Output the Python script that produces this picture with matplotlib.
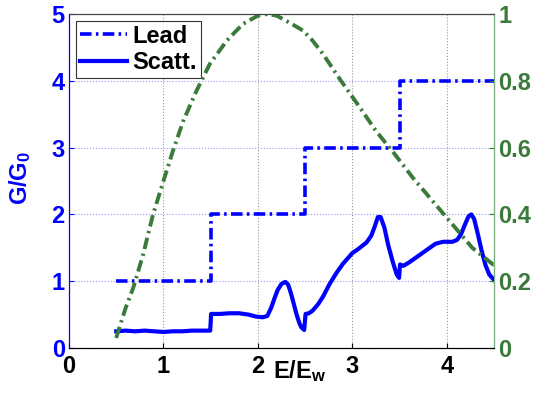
import matplotlib.pyplot as plt
import numpy as np

plt.rcParams['font.family'] = ['Liberation Sans', 'DejaVu Sans']
plt.rcParams['font.weight'] = 'bold'
plt.rcParams['mathtext.fontset'] = 'custom'
plt.rcParams['mathtext.rm'] = 'Liberation Sans:bold'
plt.rcParams['mathtext.it'] = 'Liberation Sans:bold'
plt.rcParams['mathtext.bf'] = 'Liberation Sans:bold'

# lead conductance (steps)
lead_E = [0.5, 1.5, 1.5, 2.5, 2.5, 3.5, 3.5, 4.5]
lead_G = [1, 1, 2, 2, 3, 3, 4, 4]

# scattering region conductance
scatt_E = [0.5, 0.6, 0.7, 0.8, 0.9, 1.0, 1.1, 1.2, 1.3, 1.4, 1.495, 1.505,
           1.6, 1.7, 1.8, 1.9, 1.98, 2.05, 2.1, 2.14, 2.18, 2.21, 2.25, 2.29,
           2.32, 2.35, 2.38, 2.41, 2.44, 2.46, 2.49, 2.505, 2.54, 2.58, 2.64,
           2.69, 2.76, 2.83, 2.9, 2.95, 3.0, 3.07, 3.15, 3.2, 3.24, 3.27,
           3.3, 3.34, 3.38, 3.43, 3.47, 3.495, 3.505, 3.54, 3.6, 3.7, 3.8,
           3.88, 3.96, 4.06, 4.11, 4.15, 4.19, 4.23, 4.26, 4.29, 4.33, 4.37,
           4.41, 4.45, 4.5]
scatt_G = [0.25, 0.26, 0.25, 0.26, 0.25, 0.24, 0.25, 0.25, 0.26, 0.26, 0.26, 0.51,
           0.51, 0.52, 0.52, 0.5, 0.47, 0.46, 0.48, 0.6, 0.76, 0.87, 0.96, 0.99,
           0.95, 0.82, 0.66, 0.5, 0.37, 0.31, 0.27, 0.51, 0.52, 0.56, 0.66,
           0.77, 0.96, 1.12, 1.26, 1.34, 1.42, 1.49, 1.58, 1.68, 1.83, 1.96,
           1.96, 1.8, 1.54, 1.28, 1.1, 1.05, 1.25, 1.23, 1.28, 1.38, 1.48,
           1.56, 1.59, 1.59, 1.62, 1.7, 1.84, 1.97, 2.0, 1.93, 1.7, 1.45,
           1.24, 1.1, 1.02]

# right axis curve
curve_E = [0.5, 0.52, 0.6, 0.68, 0.785, 0.89, 1.0, 1.1, 1.21, 1.35, 1.49, 1.67,
           1.84, 2.0, 2.1, 2.2, 2.36, 2.48, 2.58, 2.69, 2.88, 3.08, 3.25,
           3.45, 3.64, 3.85, 4.06, 4.27, 4.49, 4.5]
curve_v = [0.03, 0.049, 0.12, 0.18, 0.28, 0.4, 0.5, 0.59, 0.68, 0.77, 0.85, 0.92,
           0.97, 0.995, 1.0, 0.995, 0.97, 0.95, 0.92, 0.88, 0.8, 0.72, 0.65,
           0.58, 0.51, 0.44, 0.37, 0.3, 0.25, 0.25]

blue = '#0000ff'
green = '#3a7a3a'
fs = 17

fig = plt.figure(figsize=(5.35, 3.94), dpi=100)
ax = fig.add_axes([69/535, 46/394, 425/535, 334/394])
ax2 = ax.twinx()

ax.plot(lead_E, lead_G, color=blue, lw=2.6, linestyle=(0, (3.2, 1.2, 0.7, 1.2)), label='Lead')
ax.plot(scatt_E, scatt_G, color=blue, lw=3.0, solid_joinstyle='round', label='Scatt.')
ax2.plot(curve_E, curve_v, color=green, lw=2.8, linestyle=(0, (3.0, 1.2, 0.6, 1.2)))

ax.set_xlim(0, 4.5)
ax.set_ylim(0, 5)
ax2.set_ylim(0, 1)
ax.set_xticks([0, 1, 2, 3, 4])
ax.set_yticks([0, 1, 2, 3, 4, 5])
ax2.set_yticks([0, 0.2, 0.4, 0.6, 0.8, 1])
ax2.set_yticklabels(['0', '0.2', '0.4', '0.6', '0.8', '1'])

ax.tick_params(axis='x', direction='in', labelsize=fs, colors='black', pad=5)
ax.tick_params(axis='y', direction='in', labelsize=fs, colors=blue, pad=3)
ax2.tick_params(axis='y', direction='in', labelsize=fs, colors=green, pad=3)
for t in ax.get_xticklabels() + ax.get_yticklabels() + ax2.get_yticklabels():
    t.set_fontweight('bold')

ax.xaxis.grid(True, linestyle=':', color='#999999', lw=0.8)
ax.yaxis.grid(True, linestyle=':', color='#9999ff', lw=0.8)

ax.spines['left'].set_color(blue)
ax2.spines['left'].set_color(blue)
ax2.spines['right'].set_color('#7fb07f')
ax.spines['top'].set_color('#444444')
ax2.spines['top'].set_color('#444444')

ax.set_ylabel('G/G$_0$', color=blue, fontsize=fs, fontweight='bold')
ax.yaxis.set_label_coords(-0.085, 0.51)
ax.text(0.48, -0.03, 'E/E$_w$', transform=ax.transAxes, ha='left', va='top',
        fontsize=fs, fontweight='bold')

leg = ax.legend(loc='upper left', fontsize=fs, frameon=True, fancybox=False,
                edgecolor='black', handlelength=2.0, borderpad=0.15,
                labelspacing=0.15, handletextpad=0.25, borderaxespad=0.3)
for t in leg.get_texts():
    t.set_fontweight('bold')
leg.get_frame().set_linewidth(0.8)

fig.savefig('out.png', dpi=100)
